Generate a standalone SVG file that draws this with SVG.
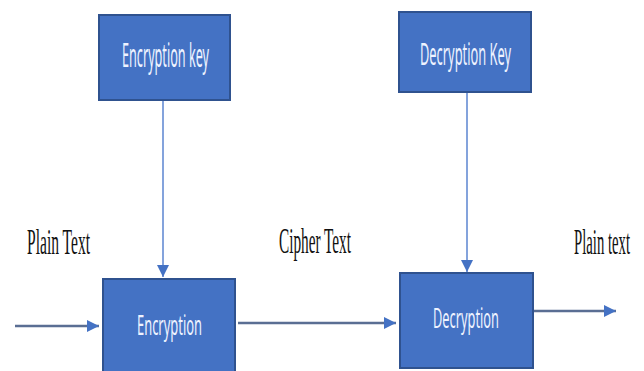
<svg xmlns="http://www.w3.org/2000/svg" width="644" height="371" viewBox="0 0 644 371">
<defs>
<style>
.box{fill:#4472C4;stroke:#2F528F;stroke-width:2}
.bt{font-family:"Noto Sans","Open Sans",sans-serif;fill:#EEF3FF;text-anchor:start}
.lbl{font-family:"Liberation Serif","Times New Roman",serif;fill:#111;font-size:35px}
.v{stroke:#5B85D0;stroke-width:1.5;fill:none}
.h{stroke:#5A6E93;stroke-width:2.5;fill:none}
</style>
<marker id="ah2" viewBox="0 0 10 10" refX="10" refY="5" markerWidth="12" markerHeight="12" markerUnits="userSpaceOnUse" orient="auto">
<path d="M0,0 L10,5 L0,10 Z" fill="#4472C4"/>
</marker>
</defs>
<rect width="644" height="371" fill="#fff"/>
<g id="connectors">
<line class="v" x1="163" y1="100" x2="163" y2="277" marker-end="url(#ah2)"/>
<line class="v" x1="467" y1="92" x2="467" y2="272" marker-end="url(#ah2)"/>
<line class="h" x1="15" y1="326" x2="99" y2="326" marker-end="url(#ah2)"/>
<line class="h" x1="238" y1="323" x2="396" y2="323" marker-end="url(#ah2)"/>
<line class="h" x1="533" y1="311" x2="616" y2="311" marker-end="url(#ah2)"/>
</g>
<g id="encryption-key">
<rect class="box" x="99" y="15" width="131" height="85"/>
<text class="bt" x="122" y="67" font-size="32" textLength="87" lengthAdjust="spacingAndGlyphs">Encryption key</text>
</g>
<g id="decryption-key">
<rect class="box" x="399" y="12" width="132" height="80"/>
<text class="bt" x="420" y="65" font-size="31" textLength="91" lengthAdjust="spacingAndGlyphs">Decryption Key</text>
</g>
<g id="encryption">
<rect class="box" x="103" y="279" width="132" height="93"/>
<text class="bt" x="137" y="335" font-size="28" textLength="65" lengthAdjust="spacingAndGlyphs">Encryption</text>
</g>
<g id="decryption">
<rect class="box" x="400" y="273" width="133" height="95"/>
<text class="bt" x="433" y="328" font-size="28" textLength="66" lengthAdjust="spacingAndGlyphs">Decryption</text>
</g>
<g id="labels">
<text class="lbl" x="27" y="254" textLength="63" lengthAdjust="spacingAndGlyphs">Plain Text</text>
<text class="lbl" x="279" y="253" textLength="72" lengthAdjust="spacingAndGlyphs">Cipher Text</text>
<text class="lbl" x="574" y="254" textLength="56" lengthAdjust="spacingAndGlyphs">Plain text</text>
</g>
</svg>
